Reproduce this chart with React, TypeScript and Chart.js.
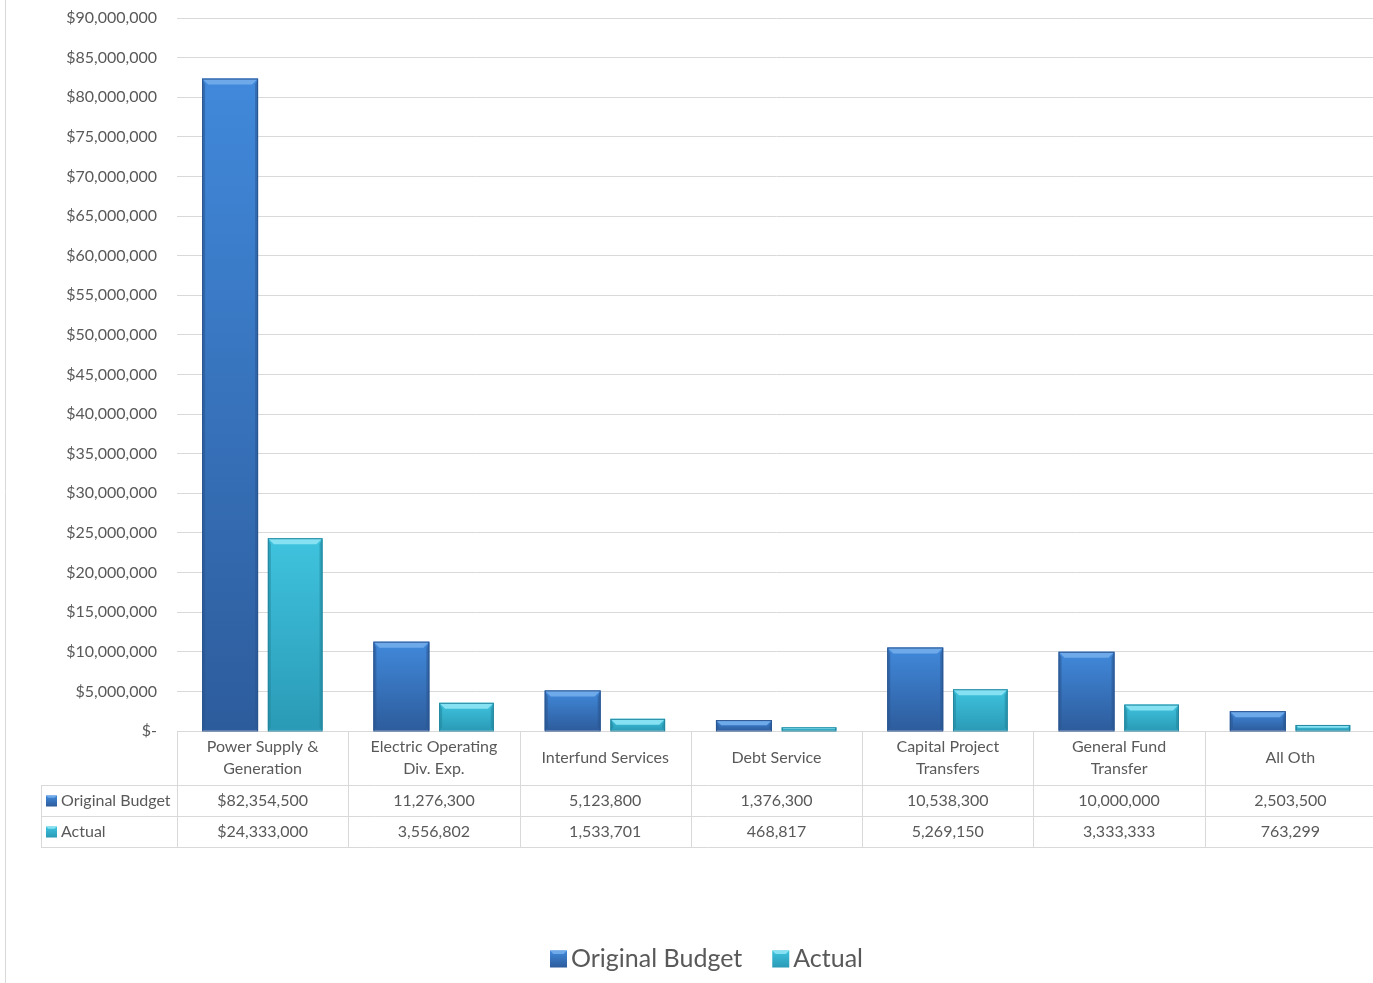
import React, { useEffect, useRef } from "react";
import { Chart, registerables } from "chart.js";

Chart.register(...registerables);

const categories: string[][] = [
  ["Power Supply &", "Generation"],
  ["Electric Operating", "Div. Exp."],
  ["Interfund Services"],
  ["Debt Service"],
  ["Capital Project", "Transfers"],
  ["General Fund", "Transfer"],
  ["All Oth"],
];
const seriesNames = ["Original Budget", "Actual"];
const originalBudget = [82354500, 11276300, 5123800, 1376300, 10538300, 10000000, 2503500];
const actual = [24333000, 3556802, 1533701, 468817, 5269150, 3333333, 763299];
const originalBudgetText = ["$82,354,500", "11,276,300", "5,123,800", "1,376,300", "10,538,300", "10,000,000", "2,503,500"];
const actualText = ["$24,333,000", "3,556,802", "1,533,701", "468,817", "5,269,150", "3,333,333", "763,299"];
const yMax = 90000000;
const yStep = 5000000;

const FONT = "Lato, 'Open Sans', sans-serif";
const TEXT = "#595959";
const GRID = "#d9d9d9";
const VIEW_W = 1373;
const CANVAS_W = 1376;
const CANVAS_H = 983;

const palettes = [
  { top: "#4189db", bottom: "#2d5c9c", bevel: "#6ea9ea", edge: "#2a5590", key: "#2f67b0" },
  { top: "#3fc3de", bottom: "#2a9ab6", bevel: "#86e2f2", edge: "#23879f", key: "#33b3cf" },
];

function barGradient(ctx: any, pal: any) {
  const chart = ctx.chart;
  const ys = chart.scales && chart.scales.y;
  if (!ys || !ctx.parsed) return pal.top;
  const yTop = ys.getPixelForValue(ctx.parsed.y);
  const yBase = ys.getPixelForValue(0);
  if (!isFinite(yTop) || !isFinite(yBase) || yBase - yTop < 1) return pal.top;
  const g = chart.ctx.createLinearGradient(0, yTop, 0, yBase);
  g.addColorStop(0, pal.top);
  g.addColorStop(1, pal.bottom);
  return g;
}

function drawKey(ctx: CanvasRenderingContext2D, x: number, y: number, s: number, pal: any) {
  const g = ctx.createLinearGradient(0, y, 0, y + s);
  g.addColorStop(0, pal.top);
  g.addColorStop(1, pal.bottom);
  ctx.fillStyle = g;
  ctx.fillRect(x, y, s, s);
  const b = Math.max(2, s * 0.2);
  ctx.fillStyle = pal.bevel;
  ctx.beginPath();
  ctx.moveTo(x, y);
  ctx.lineTo(x + s, y);
  ctx.lineTo(x + s - b, y + b);
  ctx.lineTo(x + b, y + b);
  ctx.closePath();
  ctx.fill();
}

const bevelPlugin = {
  id: "bevel",
  afterDatasetsDraw(chart: any) {
    const ctx = chart.ctx;
    ctx.save();
    chart.data.datasets.forEach((_: any, di: number) => {
      const pal = palettes[di];
      chart.getDatasetMeta(di).data.forEach((bar: any) => {
        const { x, y, base, width } = bar.getProps(["x", "y", "base", "width"], true);
        const l = x - width / 2;
        const r = x + width / 2;
        const h = base - y;
        if (h <= 0) return;
        const b = Math.min(6, h / 2);
        ctx.fillStyle = pal.bevel;
        ctx.beginPath();
        ctx.moveTo(l, y);
        ctx.lineTo(r, y);
        ctx.lineTo(r - b, y + b);
        ctx.lineTo(l + b, y + b);
        ctx.closePath();
        ctx.fill();
        ctx.globalAlpha = 0.55;
        ctx.fillStyle = pal.edge;
        ctx.beginPath();
        ctx.moveTo(l, y);
        ctx.lineTo(l + b * 0.5, y + b);
        ctx.lineTo(l + b * 0.5, base - b * 0.5);
        ctx.lineTo(l, base);
        ctx.closePath();
        ctx.fill();
        ctx.beginPath();
        ctx.moveTo(r, y);
        ctx.lineTo(r - b * 0.5, y + b);
        ctx.lineTo(r - b * 0.5, base - b * 0.5);
        ctx.lineTo(r, base);
        ctx.closePath();
        ctx.fill();
        ctx.globalAlpha = 1;
        ctx.strokeStyle = pal.edge;
        ctx.lineWidth = 1;
        ctx.strokeRect(l + 0.5, y + 0.5, width - 1, h);
      });
    });
    ctx.restore();
  },
};

const tablePlugin = {
  id: "dataTable",
  afterDraw(chart: any) {
    const ctx: CanvasRenderingContext2D = chart.ctx;
    const { left, right, bottom } = chart.chartArea;
    const xs = chart.scales.x;
    const n = categories.length;
    const step = (right - left) / n;
    const tableLeft = 41;
    const hdrB = bottom + 54;
    const r1B = hdrB + 31;
    const r2B = r1B + 31;
    ctx.save();
    ctx.strokeStyle = GRID;
    ctx.lineWidth = 1;
    ctx.beginPath();
    ctx.moveTo(5.5, 0);
    ctx.lineTo(5.5, chart.height);
    ctx.stroke();

    ctx.strokeStyle = GRID;
    ctx.beginPath();
    [hdrB, r1B, r2B].forEach((yy) => {
      ctx.moveTo(tableLeft, Math.round(yy) + 0.5);
      ctx.lineTo(right, Math.round(yy) + 0.5);
    });
    for (let i = 0; i <= n; i++) {
      const xx = Math.round(left + i * step) + 0.5;
      ctx.moveTo(xx, bottom);
      ctx.lineTo(xx, r2B);
    }
    ctx.moveTo(tableLeft + 0.5, hdrB);
    ctx.lineTo(tableLeft + 0.5, r2B);
    ctx.stroke();

    ctx.fillStyle = TEXT;
    ctx.textAlign = "center";
    ctx.textBaseline = "middle";
    ctx.font = `16px ${FONT}`;
    categories.forEach((lines, i) => {
      const cx = xs.getPixelForValue(i);
      const mid = (bottom + hdrB) / 2;
      const lh = 22;
      lines.forEach((t, k) => {
        ctx.fillText(t, cx, mid + (k - (lines.length - 1) / 2) * lh);
      });
      ctx.fillText(originalBudgetText[i], cx, (hdrB + r1B) / 2);
      ctx.fillText(actualText[i], cx, (r1B + r2B) / 2);
    });
    ctx.textAlign = "left";
    [seriesNames[0], seriesNames[1]].forEach((name, k) => {
      const cy = k === 0 ? (hdrB + r1B) / 2 : (r1B + r2B) / 2;
      drawKey(ctx, 46, cy - 5, 11, palettes[k]);
      ctx.fillStyle = TEXT;
      ctx.fillText(name, 61, cy);
    });

    ctx.font = `25px ${FONT}`;
    const ly = 959;
    const keyS = 17;
    const gapKeyText = 4;
    const gapItems = 30;
    const widths = seriesNames.map((s) => ctx.measureText(s).width);
    const total = widths.reduce((a, w) => a + keyS + gapKeyText + w, 0) + gapItems * (seriesNames.length - 1);
    let x = VIEW_W / 2 - total / 2 + 20;
    seriesNames.forEach((s, k) => {
      drawKey(ctx, x, ly - keyS / 2, keyS, palettes[k]);
      ctx.fillStyle = TEXT;
      ctx.fillText(s, x + keyS + gapKeyText, ly);
      x += keyS + gapKeyText + widths[k] + gapItems;
    });
    ctx.restore();
  },
};

export default function App() {
  const ref = useRef<HTMLCanvasElement | null>(null);
  useEffect(() => {
    if (!ref.current) return;
    const chart = new Chart(ref.current, {
      type: "bar",
      data: {
        labels: categories.map((c) => c.join(" ")),
        datasets: [
          {
            label: seriesNames[0],
            data: originalBudget,
            backgroundColor: (c: any) => barGradient(c, palettes[0]),
            borderWidth: 0,
            categoryPercentage: 0.76,
            barPercentage: 0.86,
          },
          {
            label: seriesNames[1],
            data: actual,
            backgroundColor: (c: any) => barGradient(c, palettes[1]),
            borderWidth: 0,
            categoryPercentage: 0.76,
            barPercentage: 0.84,
          },
        ],
      },
      options: {
        responsive: false,
        animation: false,
        devicePixelRatio: 1,
        layout: { padding: { top: 18, bottom: CANVAS_H - 731, left: 0, right: 0 } },
        plugins: { legend: { display: false }, tooltip: { enabled: false } },
        scales: {
          x: { display: false },
          y: {
            min: 0,
            max: yMax,
            afterFit: (s: any) => {
              s.width = 177;
              s.paddingTop = 0;
              s.paddingBottom = 0;
            },
            border: { display: false },
            grid: { color: GRID, drawTicks: false, lineWidth: 1 },
            ticks: {
              stepSize: yStep,
              padding: 20,
              color: TEXT,
              font: { family: FONT, size: 16 },
              callback: (v: any) => (Number(v) === 0 ? "$-" : "$" + Number(v).toLocaleString("en-US")),
            },
          },
        },
      },
      plugins: [bevelPlugin, tablePlugin],
    });
    return () => chart.destroy();
  }, []);
  return (
    <div style={{ position: "absolute", left: 0, top: 0, width: VIEW_W, height: CANVAS_H, overflow: "hidden", background: "#fff" }}>
      <canvas ref={ref} width={CANVAS_W} height={CANVAS_H} style={{ display: "block" }} />
    </div>
  );
}
